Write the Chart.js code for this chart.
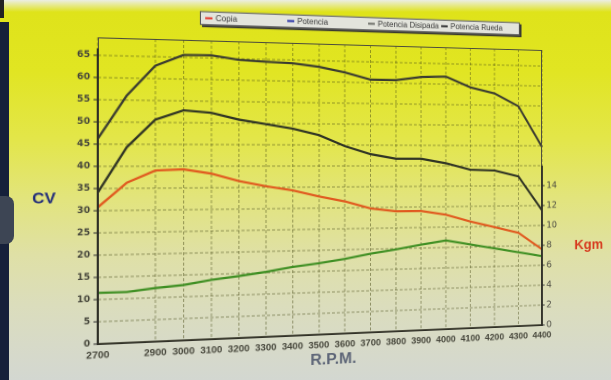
<!DOCTYPE html>
<html>
<head>
<meta charset="utf-8">
<script src="https://cdn.jsdelivr.net/npm/chart.js@4"></script>
<style>
html,body{margin:0;padding:0;width:611px;height:380px;overflow:hidden;}
body{position:relative;background:linear-gradient(to bottom,#eceee4 0px,#dfe31a 12px,#e1e522 70px,#e3e64a 140px,#e2e47e 200px,#dfe0a6 255px,#dbddbc 305px,#d7dac8 345px,#d3d7d1 380px);}
#bezel{position:absolute;left:0;top:22px;width:9px;bottom:0;background:#16203a;}
#bump{position:absolute;left:0;top:196px;width:14px;height:48px;border-radius:0 8px 8px 0;background:#3d4554;}
#mark{position:absolute;left:0;top:0;width:4px;height:18px;background:#222;}
#c{position:absolute;left:-40px;top:-30px;width:720px;height:450px;transform-origin:372px 190.2px;transform:perspective(736px) rotateY(10.26deg);}
</style>
</head>
<body>
<div id="bezel"></div><div id="bump"></div><div id="mark"></div>
<canvas id="c" width="720" height="450"></canvas>
<script>
const rpmLabels = ['2700','2800','2900','3000','3100','3200','3300','3400','3500','3600','3700','3800','3900','4000','4100','4200','4300','4400'];
const copiaKgm   = [12.3, 14.5, 15.6, 15.7, 15.3, 14.6, 14.1, 13.7, 13.1, 12.6, 11.9, 11.6, 11.6, 11.2, 10.5, 9.9, 9.3, 7.6];
const potenciaCV = [46.2, 56.0, 62.9, 65.5, 65.6, 64.7, 64.4, 64.2, 63.5, 62.3, 60.7, 60.7, 61.6, 61.8, 59.3, 57.9, 54.8, 44.7];
const disipadaCV = [11.5, 11.5, 12.2, 12.7, 13.7, 14.4, 15.2, 16.2, 16.9, 17.8, 18.9, 19.8, 20.8, 21.7, 20.6, 19.5, 18.4, 17.3];
const ruedaCV    = [34.1, 44.3, 50.6, 52.8, 52.3, 50.8, 49.8, 48.8, 47.3, 44.7, 42.8, 41.7, 41.7, 40.6, 39.0, 38.8, 37.3, 28.8];
const cvTicks  = [0,5,10,15,20,25,30,35,40,45,50,55,60,65];
const kgmTicks = [0,2,4,6,8,10,12,14];
const hiddenRpm = ['2800'];

const gridColor = 'rgba(70,72,20,0.5)';
const axisColor = '#2e2e26';

const dynoPlugin = {
  id: 'dyno',
  afterDraw(chart) {
    const {ctx, chartArea: a, scales} = chart;
    const y = scales.y, y2 = scales.y2;
    ctx.save();
    ctx.strokeStyle = '#4b4b3c'; ctx.lineWidth = 1;
    ctx.strokeRect(a.left + 0.5, a.top + 0.5, a.right - a.left - 1, a.bottom - a.top - 1);
    ctx.strokeStyle = axisColor; ctx.lineWidth = 2;
    ctx.beginPath(); ctx.moveTo(a.left, y.getPixelForValue(0) + 1); ctx.lineTo(a.left, y.getPixelForValue(66.5)); ctx.stroke();
    ctx.beginPath(); ctx.moveTo(a.right, y2.getPixelForValue(0) + 1); ctx.lineTo(a.right, y2.getPixelForValue(16)); ctx.stroke();
    ctx.textAlign = 'center'; ctx.textBaseline = 'middle';
    ctx.font = 'bold 15px "Liberation Sans", Arial, sans-serif';
    ctx.fillStyle = '#1f2a7a';
    ctx.fillText('CV', a.left - 48.3, y.getPixelForValue(32.7));
    ctx.fillStyle = '#d63a1e';
    ctx.fillText('Kgm', a.right + 53.5, y2.getPixelForValue(7.9));
    ctx.font = 'bold 16px "Liberation Sans", Arial, sans-serif';
    ctx.fillStyle = '#5d6577';
    ctx.fillText('R.P.M.', (a.left + a.right) / 2 + 1.5, a.bottom + 25.5);
    const lx = a.left + 95, ly = a.top - 28.3, lw = 330, lh = 13.5;
    ctx.fillStyle = '#3a3a30'; ctx.fillRect(lx + 2, ly + 2, lw, lh);
    ctx.fillStyle = '#e3e4dc'; ctx.fillRect(lx, ly, lw, lh);
    ctx.strokeStyle = '#555'; ctx.lineWidth = 1; ctx.strokeRect(lx + 0.5, ly + 0.5, lw - 1, lh - 1);
    const cols = [5, 85, 167, 244];
    ctx.textAlign = 'left';
    ctx.font = '8px "Liberation Sans", Arial, sans-serif';
    chart.data.datasets.forEach((ds, i) => {
      const x0 = lx + cols[i], cy = ly + lh / 2;
      ctx.strokeStyle = ds.legendColor; ctx.lineWidth = 2;
      ctx.beginPath(); ctx.moveTo(x0, cy); ctx.lineTo(x0 + 7, cy); ctx.stroke();
      ctx.fillStyle = '#3a3a3a';
      ctx.fillText(ds.label, x0 + 10, cy + 0.5);
    });
    ctx.restore();
  }
};

const common = {borderWidth: 2.2, pointRadius: 0, pointHoverRadius: 0, tension: 0, fill: false};

new Chart(document.getElementById('c'), {
  type: 'line',
  data: {
    labels: rpmLabels,
    datasets: [
      Object.assign({label: 'Copia', data: copiaKgm, yAxisID: 'y2', borderColor: '#e05a1f', legendColor: '#e53a2e'}, common),
      Object.assign({label: 'Potencia', data: potenciaCV, yAxisID: 'y', borderColor: '#3a3b30', legendColor: '#2b35a8'}, common),
      Object.assign({label: 'Potencia Disipada', data: disipadaCV, yAxisID: 'y', borderColor: '#3f8f23', legendColor: '#6f716a'}, common),
      Object.assign({label: 'Potencia Rueda', data: ruedaCV, yAxisID: 'y', borderColor: '#2f3324', legendColor: '#2f3030'}, common)
    ]
  },
  options: {
    responsive: false,
    animation: false,
    devicePixelRatio: 2,
    layout: {padding: {top: 74, left: 0, right: 0, bottom: 0}},
    plugins: {legend: {display: false}, tooltip: {enabled: false}},
    events: [],
    scales: {
      x: {
        type: 'category',
        offset: false,
        afterFit(s) { s.height = 86; },
        grid: {
          color: ctx => (ctx.tick && hiddenRpm.includes(rpmLabels[ctx.index])) ? 'rgba(0,0,0,0)' : gridColor,
          lineWidth: 1, drawTicks: false
        },
        border: {display: true, color: axisColor, width: 2, dash: [3, 2]},
        ticks: {
          autoSkip: false, maxRotation: 0, minRotation: 0, padding: 5,
          color: '#45453a',
          font: {family: '"Liberation Sans", Arial, sans-serif', size: 9.5, weight: 'bold'},
          callback: (v, i) => hiddenRpm.includes(rpmLabels[i]) ? '' : rpmLabels[i]
        }
      },
      y: {
        position: 'left', min: 0, max: 69,
        afterFit(s) { s.width = 147; },
        afterBuildTicks(s) { s.ticks = cvTicks.map(v => ({value: v})); },
        grid: {color: gridColor, lineWidth: 1, drawTicks: true, tickLength: 4, tickColor: '#333', tickWidth: 1, tickBorderDash: []},
        border: {display: false, dash: [3, 2]},
        ticks: {padding: 3, color: '#45453a', font: {family: '"DejaVu Sans", sans-serif', size: 8.5, weight: 'bold'}}
      },
      y2: {
        position: 'right', min: 0, max: 27.6,
        afterFit(s) { s.width = 123; },
        afterBuildTicks(s) { s.ticks = kgmTicks.map(v => ({value: v})); },
        grid: {drawOnChartArea: false, drawTicks: true, tickLength: 3, tickColor: '#333', tickWidth: 1, tickBorderDash: []},
        border: {display: false},
        ticks: {padding: 2, color: '#4a4a40', font: {family: '"DejaVu Sans", sans-serif', size: 9.5}}
      }
    }
  },
  plugins: [dynoPlugin]
});
</script>
</body>
</html>
